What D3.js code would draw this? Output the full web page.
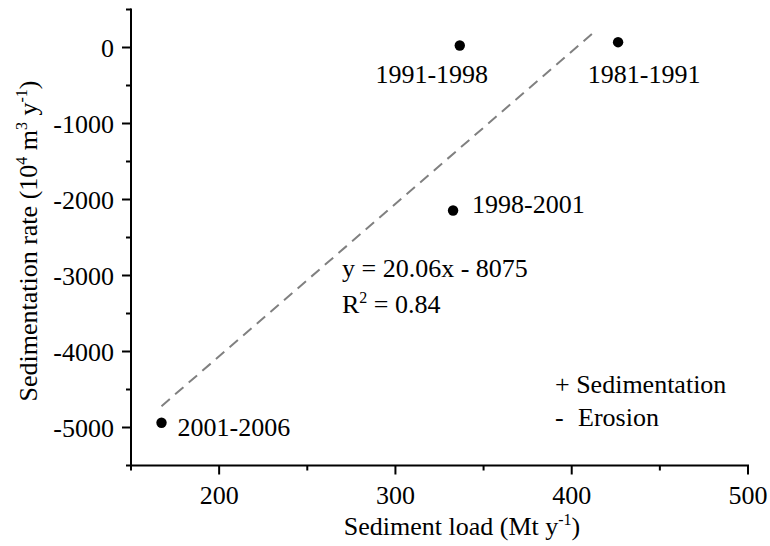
<!DOCTYPE html>
<html>
<head>
<meta charset="utf-8">
<script src="https://cdn.jsdelivr.net/npm/d3@7"></script>
<style>
  html, body { margin: 0; padding: 0; background: #fff; }
  svg { display: block; }
  svg text { font-family: "Liberation Serif", "Times New Roman", "DejaVu Serif", serif; }
</style>
</head>
<body>
<svg id="chart" width="770" height="546"></svg>
<script>
// Sediment load vs. sedimentation rate by period
const periods = ["1981-1991", "1991-1998", "1998-2001", "2001-2006"];
const sedimentLoad = [426.3, 336.5, 332.7, 167.3];      // Mt y^-1
const sedimentationRate = [70, 26, -2145, -4938];       // 10^4 m^3 y^-1

// Linear fit
const fitSlope = 20.06;
const fitIntercept = -8075;
const fitR2 = 0.84;
const fitRange = [167.3, 414];

const xTicks = [200, 300, 400, 500];
const xMinorTicks = [150, 250, 350, 450];
const yTicks = [0, -1000, -2000, -3000, -4000, -5000];
const yMinorTicks = [500, -500, -1500, -2500, -3500, -4500, -5500];

// label placement relative to each point: [dx, dy, anchor]
const labelPlacement = [[26, 41, "middle"], [-28, 37, "middle"], [19, 2, "start"], [16, 13, "start"]];

const svg = d3.select("#chart");
const FS = 26;
const SUP = 16;

const x = d3.scaleLinear().domain([150, 500]).range([131, 748]);
const y = d3.scaleLinear().domain([-5500, 500]).range([465.5, 9.5]);

const axisColor = "#000";

// x axis
const gx = svg.append("g").attr("transform", `translate(0,${y(-5500)})`);
gx.append("line").attr("x1", x(150) - 1).attr("x2", x(500) + 1).attr("stroke", axisColor).attr("stroke-width", 2);
gx.selectAll(".maj").data(xTicks).join("line")
  .attr("x1", d => x(d)).attr("x2", d => x(d)).attr("y1", 0).attr("y2", 9)
  .attr("stroke", axisColor).attr("stroke-width", 2);
gx.selectAll(".min").data(xMinorTicks).join("line")
  .attr("x1", d => x(d)).attr("x2", d => x(d)).attr("y1", 0).attr("y2", 5)
  .attr("stroke", axisColor).attr("stroke-width", 2);
gx.selectAll("text").data(xTicks).join("text")
  .attr("x", d => x(d)).attr("y", 38).attr("text-anchor", "middle")
  .attr("font-size", FS).attr("fill", "#000").text(d => d);

// y axis
const gy = svg.append("g").attr("transform", `translate(${x(150)},0)`);
gy.append("line").attr("y1", y(500) - 1).attr("y2", y(-5500) + 1).attr("stroke", axisColor).attr("stroke-width", 2);
gy.selectAll(".maj").data(yTicks).join("line")
  .attr("y1", d => y(d)).attr("y2", d => y(d)).attr("x1", 0).attr("x2", -9)
  .attr("stroke", axisColor).attr("stroke-width", 2);
gy.selectAll(".min").data(yMinorTicks).join("line")
  .attr("y1", d => y(d)).attr("y2", d => y(d)).attr("x1", 0).attr("x2", -5)
  .attr("stroke", axisColor).attr("stroke-width", 2);
gy.selectAll("text").data(yTicks).join("text")
  .attr("x", -17).attr("y", d => y(d) + 9).attr("text-anchor", "end")
  .attr("font-size", FS).attr("fill", "#000").text(d => d);

// axis titles
const xt = svg.append("text").attr("x", 462).attr("y", 535).attr("text-anchor", "middle")
  .attr("font-size", FS).attr("fill", "#000");
xt.append("tspan").text("Sediment load (Mt y");
xt.append("tspan").attr("font-size", SUP).attr("dy", -10).text("-1");
xt.append("tspan").attr("dy", 10).text(")");

const yt = svg.append("text").attr("transform", "translate(37,241) rotate(-90)")
  .attr("text-anchor", "middle").attr("font-size", FS).attr("fill", "#000");
yt.append("tspan").text("Sedimentation rate (10");
yt.append("tspan").attr("font-size", SUP).attr("dy", -10).text("4");
yt.append("tspan").attr("dy", 10).text(" m");
yt.append("tspan").attr("font-size", SUP).attr("dy", -10).text("3");
yt.append("tspan").attr("dy", 10).text(" y");
yt.append("tspan").attr("font-size", SUP).attr("dy", -10).text("-1");
yt.append("tspan").attr("dy", 10).text(")");

// trend line
const fit = d => fitSlope * d + fitIntercept;
svg.append("line")
  .attr("x1", x(fitRange[0])).attr("y1", y(fit(fitRange[0])))
  .attr("x2", x(fitRange[1])).attr("y2", y(fit(fitRange[1])))
  .attr("stroke", "#808080").attr("stroke-width", 2).attr("stroke-dasharray", "11,7");

// points
const pts = periods.map((p, i) => ({ p, lx: sedimentLoad[i], ry: sedimentationRate[i], pl: labelPlacement[i] }));
svg.selectAll(".pt").data(pts).join("circle")
  .attr("cx", d => x(d.lx)).attr("cy", d => y(d.ry)).attr("r", 5.2).attr("fill", "#000");
svg.selectAll(".lbl").data(pts).join("text")
  .attr("x", d => x(d.lx) + d.pl[0]).attr("y", d => y(d.ry) + d.pl[1])
  .attr("text-anchor", d => d.pl[2]).attr("font-size", FS).attr("fill", "#000")
  .text(d => d.p);

// equation
svg.append("text").attr("x", 342).attr("y", 277).attr("font-size", FS).attr("fill", "#000")
  .text(`y = ${fitSlope.toFixed(2)}x - ${Math.abs(fitIntercept)}`);
const r2 = svg.append("text").attr("x", 342).attr("y", 313).attr("font-size", FS).attr("fill", "#000");
r2.append("tspan").text("R");
r2.append("tspan").attr("font-size", SUP).attr("dy", -10).text("2");
r2.append("tspan").attr("dy", 10).text(` = ${fitR2.toFixed(2)}`);

// note
svg.append("text").attr("x", 555).attr("y", 393).attr("font-size", FS).attr("fill", "#000")
  .text("+ Sedimentation");
svg.append("text").attr("x", 555).attr("y", 426).attr("font-size", FS).attr("fill", "#000")
  .text("-");
svg.append("text").attr("x", 578).attr("y", 426).attr("font-size", FS).attr("fill", "#000")
  .text("Erosion");
</script>
</body>
</html>
